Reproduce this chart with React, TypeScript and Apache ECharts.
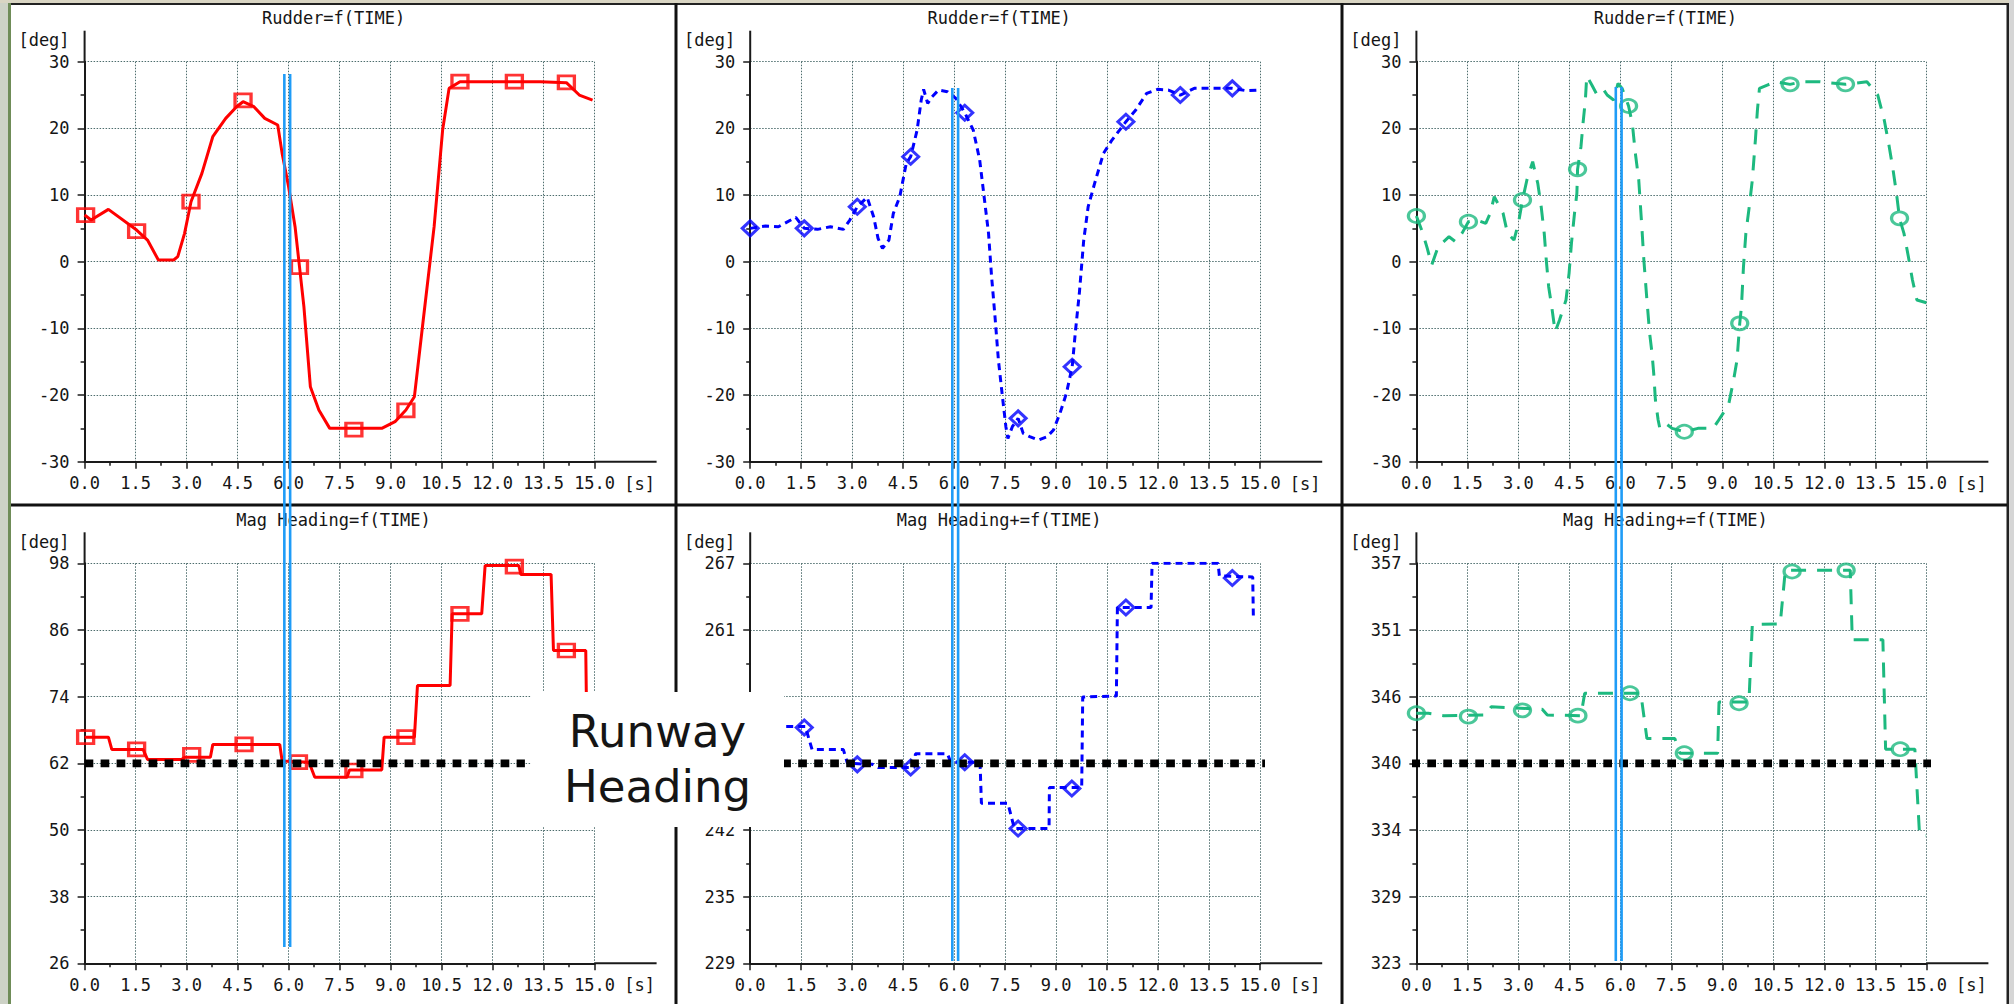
import React, { useEffect, useRef } from 'react';
import * as echarts from 'echarts';

type Pt = [number, number];

// ---------------- axis ranges / ticks ----------------
const timeRange: Pt = [0, 15];
const timeStep = 1.5;
const rudderRange: Pt = [-30, 30];
const headingRanges: Pt[] = [[26, 98], [229, 267], [323, 357]];
const yDivisions = 6;
// tick labels that sit under the "Runway Heading" note box in the reference
const coveredHeadingTicks: number[][] = [[], [254, 248], []];

// ---------------- texts ----------------
const topTitles = ['Rudder=f(TIME)', 'Rudder=f(TIME)', 'Rudder=f(TIME)'];
const bottomTitles = ['Mag Heading=f(TIME)', 'Mag Heading+=f(TIME)', 'Mag Heading+=f(TIME)'];
const yUnit = '[deg]';
const xUnit = '[s]';
const noteLines = ['Runway', 'Heading'];

// ---------------- series (time [s], value [deg]) ----------------
const rudderRed: Pt[] = [
  [0, 7], [0.19, 6.25], [0.7, 7.85], [1.53, 4.75], [1.85, 3.25], [2.17, 0.25], [2.62, 0.25], [2.74, 0.75],
  [2.94, 4.25], [3.13, 9], [3.45, 13.25], [3.77, 18.75], [4.15, 21.5], [4.47, 23.25], [4.66, 24], [4.98, 23.25],
  [5.3, 21.5], [5.68, 20.5], [5.81, 16.25], [6.0, 11.25], [6.19, 5.25], [6.32, -0.75], [6.45, -6.75], [6.64, -18.75],
  [6.89, -22.25], [7.21, -25], [7.92, -25], [8.74, -25], [9.13, -24], [9.45, -22.25], [9.7, -20.25], [9.96, -8.75],
  [10.28, 5.25], [10.53, 19.75], [10.72, 26], [11.04, 27], [11.68, 27], [12.64, 27], [13.4, 27], [14.17, 26.85],
  [14.55, 25], [14.94, 24.25],
];
const rudderRedMarks: Pt[] = [
  [0.03, 7], [1.53, 4.6], [3.13, 9], [4.66, 24.2], [6.32, -0.8], [7.92, -25.2], [9.45, -22.3], [11.04, 27], [12.64, 27], [14.17, 26.9],
];

const rudderBlue: Pt[] = [
  [0, 5], [0.45, 5.35], [0.83, 5.25], [1.34, 6.65], [1.59, 5], [1.98, 4.85], [2.36, 5.25], [2.74, 4.85], [2.93, 6.25],
  [3.15, 8.25], [3.44, 9.65], [3.63, 6.75], [3.76, 3.5], [3.89, 2], [4.08, 3.25], [4.21, 7.25], [4.4, 9.75], [4.59, 14.75],
  [4.72, 15.75], [4.91, 19.75], [5.03, 24.25], [5.1, 25.85], [5.22, 23.75], [5.35, 24.75], [5.54, 25.75], [5.8, 25.5],
  [6.05, 24.5], [6.31, 22.35], [6.56, 19.75], [6.75, 15.25], [6.88, 9.75], [7.01, 4.25], [7.1, -2.25], [7.2, -8.25],
  [7.3, -14.75], [7.43, -20.75], [7.52, -24.75], [7.58, -26.5], [7.71, -24.75], [7.88, -23.5], [8.03, -25.75],
  [8.22, -26.25], [8.47, -26.75], [8.73, -26.25], [8.92, -25.25], [9.11, -22.75], [9.3, -19.75], [9.47, -15.75],
  [9.56, -10.75], [9.68, -4.75], [9.81, 3.25], [9.94, 8.25], [10.13, 11.75], [10.39, 16.25], [10.64, 18.25], [11.05, 21],
  [11.34, 22.75], [11.66, 25.25], [11.98, 25.85], [12.3, 25.75], [12.65, 25], [13.06, 26], [13.57, 26], [14.18, 26],
  [14.59, 25.65], [15.0, 25.75],
];
const rudderBlueMarks: Pt[] = [
  [0, 5], [1.59, 5], [3.15, 8.25], [4.72, 15.75], [6.31, 22.35], [7.88, -23.5], [9.47, -15.75], [11.05, 21], [12.65, 25], [14.18, 26],
];

const rudderGreen: Pt[] = [
  [0, 6.85], [0.19, 4.25], [0.32, 2], [0.45, -0.5], [0.64, 2.25], [0.96, 3.75], [1.15, 3], [1.34, 4.25], [1.53, 6],
  [1.78, 6.25], [2.04, 5.75], [2.17, 7.25], [2.29, 9.75], [2.55, 7.25], [2.68, 4.25], [2.87, 3.25], [3.0, 5.75],
  [3.12, 9.25], [3.25, 12.25], [3.42, 15], [3.57, 11.75], [3.67, 8.25], [3.76, 4.25], [3.82, 0.25], [3.89, -3.75],
  [3.98, -6.75], [4.08, -10.5], [4.21, -8.75], [4.4, -5.75], [4.49, -1.75], [4.56, 2.75], [4.65, 7.25], [4.72, 10.25],
  [4.74, 13.85], [4.84, 17.25], [4.91, 21.25], [4.97, 24.25], [5.01, 27.85], [5.16, 26.5], [5.29, 25.25], [5.48, 26],
  [5.61, 25], [5.8, 24.25], [5.93, 26.75], [6.05, 26], [6.24, 23.35], [6.35, 20.75], [6.44, 16.25], [6.54, 12.25],
  [6.63, 5.25], [6.69, 0.25], [6.78, -5.75], [6.86, -10.75], [6.93, -13.75], [6.98, -16.75], [7.03, -20.75],
  [7.11, -23.75], [7.16, -25], [7.33, -24.25], [7.52, -25], [7.88, -25.5], [8.28, -25], [8.73, -25], [8.86, -24],
  [9.18, -21.5], [9.33, -17.75], [9.43, -14.75], [9.51, -9.25], [9.56, -6.75], [9.62, -0.75], [9.69, 4.25], [9.79, 8.25],
  [9.88, 12.25], [9.97, 18.25], [10.03, 22.75], [10.09, 26], [10.32, 26.5], [10.58, 27], [10.99, 26.6], [11.34, 27],
  [11.85, 27], [12.62, 26.6], [13.25, 27], [13.57, 25], [13.76, 21.25], [13.89, 17.75], [14.02, 13.75], [14.12, 10.25],
  [14.21, 6.5], [14.34, 4.25], [14.47, 0.75], [14.59, -2.75], [14.72, -5.75], [15, -6.15],
];
const rudderGreenMarks: Pt[] = [
  [0, 6.85], [1.53, 6], [3.12, 9.25], [4.74, 13.85], [6.24, 23.35], [7.88, -25.5], [9.51, -9.25], [10.99, 26.6], [12.62, 26.6], [14.21, 6.5],
];

const headingRed: Pt[] = [
  [0, 66.7], [0.7, 66.7], [0.8, 64.5], [1.72, 64.5], [1.85, 62.7], [2.85, 62.7], [2.95, 63.1], [3.7, 63.1], [3.77, 65.4],
  [5.74, 65.4], [5.81, 62.4], [6.6, 62.2], [6.77, 59.5], [7.72, 59.5], [7.79, 60.8], [8.74, 60.8], [8.81, 66.7],
  [9.7, 66.7], [9.79, 76], [10.75, 76], [10.81, 88.9], [11.68, 88.9], [11.78, 97.6], [12.77, 97.6], [12.83, 96],
  [13.72, 96], [13.79, 82.3], [14.74, 82.3], [14.77, 68],
];
const headingRedMarks: Pt[] = [
  [0.03, 66.7], [1.53, 64.5], [3.15, 63.5], [4.69, 65.4], [6.29, 62.2], [7.92, 60.7], [9.45, 66.7], [11.04, 88.9], [12.64, 97.4], [14.17, 82.3],
];

const headingBlue: Pt[] = [
  [0, 251.5], [1.62, 251.5], [1.82, 249.3], [2.74, 249.3], [2.86, 248.0], [3.6, 247.9], [3.76, 247.6], [4.82, 247.6],
  [4.86, 248.9], [5.8, 248.9], [5.9, 248.1], [6.76, 248.1], [6.8, 244.2], [7.58, 244.2], [7.77, 241.8], [8.79, 241.8],
  [8.8, 245.7], [9.75, 245.7], [9.78, 254.3], [10.77, 254.4], [10.8, 262.8], [11.79, 262.8], [11.82, 267], [13.76, 267],
  [13.8, 265.8], [14.78, 265.7], [14.8, 261.7],
];
const headingBlueMarks: Pt[] = [
  [1.59, 251.4], [3.15, 247.9], [4.72, 247.6], [6.31, 248.1], [7.88, 241.8], [9.46, 245.6], [11.05, 262.8], [14.18, 265.6],
];

const headingGreen: Pt[] = [
  [0, 344.25], [0.35, 344.25], [0.8, 344.05], [2.05, 344.1], [2.2, 344.8], [3.7, 344.6], [3.85, 344.1], [4.84, 344.05],
  [4.95, 345.95], [6.6, 345.95], [6.78, 342.1], [7.6, 342.1], [7.75, 340.85], [8.86, 340.85], [8.9, 345.2], [9.78, 345.2],
  [9.88, 351.8], [10.7, 351.85], [10.85, 356.4], [12.76, 356.4], [12.82, 350.5], [13.72, 350.5], [13.8, 341.2],
  [14.66, 341.2], [14.8, 333.85], [14.97, 333.85],
];
const headingGreenMarks: Pt[] = [
  [0, 344.25], [1.53, 343.97], [3.12, 344.5], [4.75, 344.05], [6.28, 345.95], [7.88, 340.85], [9.49, 345.1], [11.05, 356.3], [12.64, 356.4], [14.23, 341.2],
];

const runwayHeading = [62, 248, 340];
const runwaySpan: Pt[] = [[0, 12.95], [0, 15.7], [-0.15, 15.35]];
const cursorTimes = [5.96, 6.03, 5.95];

// ---------------- layout & style ----------------
const W = 2014;
const H = 1004;
const COL_X = [84.6, 750.2, 1416.4];
const ROW_Y = [61.7, 563.3];
const PW = 510;
const PH = 400;
const AXIS_EXT_X = 572;
const AXIS_EXT_Y = 31;
const MONO = '"DejaVu Sans Mono", "Liberation Mono", monospace';
const AXIS_C = '#1a1a1a';
const TEXT_C = '#151515';
const GRID_C = '#4d6d6d';
const CURSOR_C = '#1f9cf7';
const RED = '#ff0000';
const BLUE = '#0000ff';
const GREEN = '#1db97f';

const looks = [
  { color: RED, dash: 'solid' as any, symbol: 'rect', size: [16, 13] },
  { color: BLUE, dash: [7, 5] as any, symbol: 'diamond', size: [16, 15] },
  { color: GREEN, dash: [15, 11] as any, symbol: 'circle', size: [16, 13] },
];

const panels = [
  { title: topTitles[0], range: rudderRange, line: rudderRed, marks: rudderRedMarks, look: 0, runway: -1, covered: [] as number[] },
  { title: topTitles[1], range: rudderRange, line: rudderBlue, marks: rudderBlueMarks, look: 1, runway: -1, covered: [] as number[] },
  { title: topTitles[2], range: rudderRange, line: rudderGreen, marks: rudderGreenMarks, look: 2, runway: -1, covered: [] as number[] },
  { title: bottomTitles[0], range: headingRanges[0], line: headingRed, marks: headingRedMarks, look: 0, runway: 0, covered: coveredHeadingTicks[0] },
  { title: bottomTitles[1], range: headingRanges[1], line: headingBlue, marks: headingBlueMarks, look: 1, runway: 1, covered: coveredHeadingTicks[1] },
  { title: bottomTitles[2], range: headingRanges[2], line: headingGreen, marks: headingGreenMarks, look: 2, runway: 2, covered: coveredHeadingTicks[2] },
];

function buildOption() {
  const grid: any[] = [];
  const xAxis: any[] = [];
  const yAxis: any[] = [];
  const series: any[] = [];

  panels.forEach((p, i) => {
    const col = i % 3;
    const row = Math.floor(i / 3);
    const [lo, hi] = p.range;
    const step = (hi - lo) / yDivisions;
    const exact = Math.abs(step - Math.round(step)) < 1e-9;
    const toAxis = (v: number) => (exact ? v : (v - lo) / step);
    const look = looks[p.look];

    grid.push({ left: COL_X[col], top: ROW_Y[row], width: PW, height: PH, containLabel: false, outerBoundsMode: 'none' });

    xAxis.push({
      gridIndex: i,
      type: 'value',
      min: timeRange[0],
      max: timeRange[1],
      interval: timeStep,
      axisLine: { show: true, onZero: false, lineStyle: { color: AXIS_C, width: 2 } },
      axisTick: { show: true, inside: false, length: 7, lineStyle: { color: AXIS_C, width: 1.5 } },
      minorTick: { show: true, splitNumber: 2, length: 4, lineStyle: { color: AXIS_C, width: 1.5 } },
      axisLabel: {
        show: true,
        margin: 13,
        formatter: (v: number) => v.toFixed(1),
        fontFamily: MONO,
        fontSize: 17,
        color: TEXT_C,
      },
      splitLine: { show: true, lineStyle: { color: GRID_C, width: 1, type: [1.5, 1.5] } },
      minorSplitLine: { show: false },
    });

    yAxis.push({
      gridIndex: i,
      type: 'value',
      min: exact ? lo : 0,
      max: exact ? hi : yDivisions,
      interval: exact ? step : 1,
      axisLine: { show: true, onZero: false, lineStyle: { color: AXIS_C, width: 2 } },
      axisTick: { show: true, inside: false, length: 7, lineStyle: { color: AXIS_C, width: 1.5 } },
      minorTick: { show: true, splitNumber: 2, length: 4, lineStyle: { color: AXIS_C, width: 1.5 } },
      axisLabel: {
        show: true,
        margin: 15,
        formatter: (v: number) => {
          const val = Math.round(exact ? v : lo + v * step);
          return p.covered.indexOf(val) >= 0 ? '' : String(val);
        },
        fontFamily: MONO,
        fontSize: 17,
        color: TEXT_C,
      },
      splitLine: { show: true, lineStyle: { color: GRID_C, width: 1, type: [1.5, 1.5] } },
      minorSplitLine: { show: false },
    });

    series.push({
      type: 'line',
      xAxisIndex: i,
      yAxisIndex: i,
      data: p.line.map(([t, v]) => [t, toAxis(v)]),
      symbol: 'none',
      showSymbol: false,
      silent: true,
      z: 3,
      lineStyle: { color: look.color, width: 3, type: look.dash },
    });
    series.push({
      type: 'scatter',
      xAxisIndex: i,
      yAxisIndex: i,
      data: p.marks.map(([t, v]) => [t, toAxis(v)]),
      symbol: look.symbol,
      symbolSize: look.size,
      silent: true,
      z: 4,
      itemStyle: { color: 'rgba(0,0,0,0)', borderColor: look.color, borderWidth: 3 },
    });
    if (p.runway >= 0) {
      const rh = runwayHeading[p.runway];
      series.push({
        type: 'line',
        xAxisIndex: i,
        yAxisIndex: i,
        data: runwaySpan[p.runway].map((t) => [t, toAxis(rh)]),
        symbol: 'none',
        showSymbol: false,
        silent: true,
        clip: false,
        z: 5,
        lineStyle: { color: '#000000', width: 7.7, type: [8.7, 7.3] },
      });
    }
  });

  return { animation: false, backgroundColor: '#ffffff', grid, xAxis, yAxis, series };
}

function rect(x: number, y: number, w: number, h: number, fill: string, z = 40) {
  return { type: 'rect', z, silent: true, shape: { x, y, width: w, height: h }, style: { fill } };
}
function line(x1: number, y1: number, x2: number, y2: number, stroke: string, lw: number, z = 40) {
  return { type: 'line', z, silent: true, shape: { x1, y1, x2, y2 }, style: { stroke, lineWidth: lw } };
}
function text(x: number, y: number, s: string, align: string, size = 17, family = MONO, z = 45) {
  return {
    type: 'text',
    z,
    silent: true,
    x,
    y,
    style: { text: s, fill: TEXT_C, fontSize: size, fontFamily: family, align, verticalAlign: 'middle' },
  };
}

function buildGraphics(chart: any) {
  const els: any[] = [];
  // window frame
  els.push(rect(0, 0, 8, H, '#cdd2c6'));
  els.push(rect(8, 0, 3, H, '#6f8c58'));
  els.push(rect(0, 0, W, 3, '#d9d5c3'));
  els.push(rect(11, 3, 1998, 2, '#222222'));
  els.push(rect(2006.5, 3, 2.6, H, '#222222'));
  els.push(rect(2009.1, 0, 5, H, '#d6d6d6'));
  els.push(rect(674.5, 3, 3, H, '#111111'));
  els.push(rect(1340.5, 3, 3, H, '#111111'));
  els.push(rect(11, 503.5, 1996, 3, '#111111'));

  panels.forEach((p, i) => {
    const col = i % 3;
    const row = Math.floor(i / 3);
    const x0 = COL_X[col];
    const y0 = ROW_Y[row];
    els.push(text(x0 + 249, y0 - 43.3, p.title, 'center'));
    els.push(text(x0 - 15, y0 - 21.5, yUnit, 'right'));
    els.push(text(x0 + 555, y0 + PH + 22, xUnit, 'center'));
    els.push(line(x0, y0, x0, y0 - AXIS_EXT_Y, AXIS_C, 2));
    els.push(line(x0 + PW, y0 + PH, x0 + AXIS_EXT_X, y0 + PH, AXIS_C, 2));
  });

  // cursor double lines
  const cursorTop = [74, 88, 87];
  const cursorBottom = [947, 961, 961];
  cursorTimes.forEach((t, c) => {
    const px = chart.convertToPixel({ gridIndex: c }, [t, 0]);
    const xc = Array.isArray(px) ? px[0] : COL_X[c];
    els.push(rect(xc - 4.2, cursorTop[c], 2.6, cursorBottom[c] - cursorTop[c], CURSOR_C, 55));
    els.push(rect(xc + 1.6, cursorTop[c], 2.6, cursorBottom[c] - cursorTop[c], CURSOR_C, 55));
  });

  // annotation box
  els.push(rect(531, 692, 253, 135, '#ffffff', 60));
  els.push(text(657.5, 731, noteLines[0], 'center', 45, '"DejaVu Sans", sans-serif', 61));
  els.push(text(657.5, 786, noteLines[1], 'center', 45, '"DejaVu Sans", sans-serif', 61));
  return els;
}

export default function App() {
  const ref = useRef<HTMLDivElement>(null);
  useEffect(() => {
    if (!ref.current) return;
    const chart = echarts.init(ref.current, null, { renderer: 'svg' });
    chart.setOption(buildOption() as any);
    chart.setOption({ graphic: { elements: buildGraphics(chart) } } as any);
    return () => chart.dispose();
  }, []);
  return (
    <div
      ref={ref}
      style={{ position: 'fixed', left: 0, top: 0, width: W, height: H, background: '#ffffff' }}
    />
  );
}
